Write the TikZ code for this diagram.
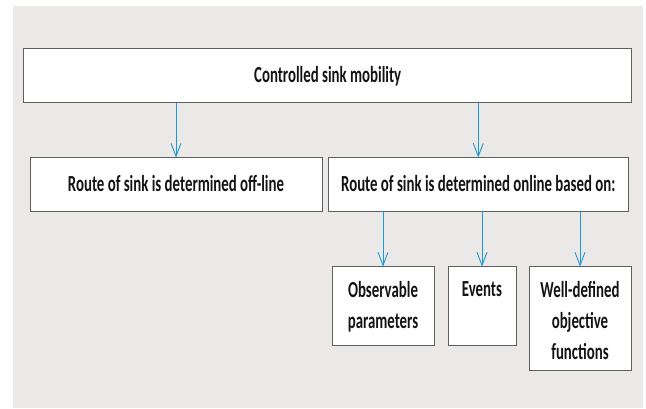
\documentclass[tikz,border=0pt]{standalone}
\usepackage{fontspec}
\setmainfont{Carlito}
\newfontfamily\boxfont{Carlito}[FakeStretch=0.645]
\usetikzlibrary{arrows.meta}

\definecolor{panelgray}{RGB}{234,233,232}
\definecolor{arrowblue}{RGB}{32,152,214}
\definecolor{boxline}{RGB}{95,95,95}

\tikzset{
  box/.style={draw=boxline, line width=0.9pt, fill=white, inner sep=0pt,
    text height=14pt, text depth=0pt,
    font=\boxfont\bfseries\fontsize{23}{31}\selectfont, text=black!92},
  leaftext/.style={anchor=north, align=center, inner sep=0pt, yshift=-16pt,
    font=\boxfont\bfseries\fontsize{23}{31}\selectfont, text=black!92},
  arr/.style={draw=arrowblue, line width=0.9pt, -{Straight Barb[length=13pt,width=10pt,line width=0.9pt]}}
}

\begin{document}
\begin{tikzpicture}[x=1pt,y=-1pt]
  \useasboundingbox (0,0) rectangle (646,408);
  \fill[panelgray] (12.7,6) rectangle (643,408);

  % top level
  \node[box, minimum width=608pt, minimum height=54.4pt] (ctrl) at (327.7,75.5) {Controlled sink mobility};

  % second level
  \node[box, minimum width=292pt, minimum height=54pt] (offl) at (176,184) {Route of sink is determined off-line};
  \node[box, minimum width=299.3pt, minimum height=54pt] (onl) at (478.3,184) {Route of sink is determined online based on:};

  % third level
  \node[box, minimum width=102pt, minimum height=79pt,
    label={[leaftext]north:Observable\\parameters}] (obs) at (383,305.5) {};
  \node[box, minimum width=68pt, minimum height=79pt,
    label={[leaftext]north:Events}] (evt) at (482,305.5) {};
  \node[box, minimum width=102pt, minimum height=104pt,
    label={[leaftext]north:Well-defined\\objective\\functions}] (obj) at (580,318) {};

  \foreach \n in {offl,onl}
    \draw[arr] (ctrl.south -| \n.north) -- ([yshift=-1pt]\n.north);
  \foreach \n in {obs,evt,obj}
    \draw[arr] (onl.south -| \n.north) -- ([yshift=-1pt]\n.north);
\end{tikzpicture}
\end{document}
